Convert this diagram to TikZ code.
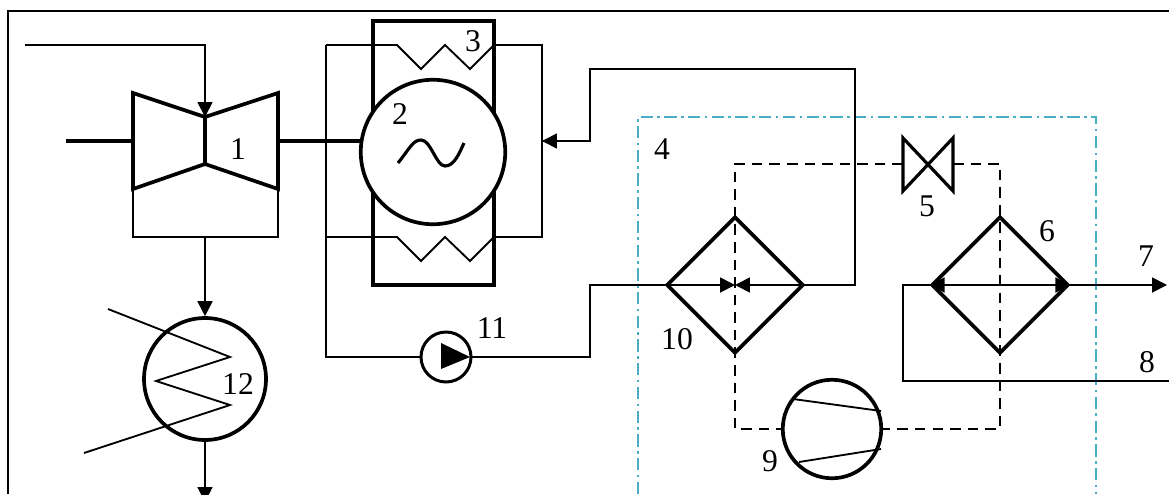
\documentclass[tikz,border=0pt]{standalone}
\usepackage{fontspec}
\setmainfont{Liberation Serif}
\usetikzlibrary{arrows.meta,shapes.geometric}
\definecolor{loopcyan}{HTML}{4BACC6}

\begin{document}
\begin{tikzpicture}[
        x=0.02cm, y=-0.02cm,
        every node/.style={font=\fontsize{18}{20}\selectfont},
        thin line/.style={line width=1.05pt, line join=miter},
        thick line/.style={line width=2.1pt, line join=miter},
        num/.style={inner sep=0pt},
        unit/.style={circle, draw=black, thick line, fill=white, inner sep=0pt},
        hex/.style={diamond, draw=black, thick line, inner sep=0pt, minimum width=2.74cm, minimum height=2.74cm},
        arrow/.style={thin line, -{Triangle[length=8.5pt, width=8.5pt]}},
        refrig/.style={line width=1.25pt, dash pattern=on 6pt off 4pt},
        boundary/.style={line width=0.9pt, loopcyan, dash pattern=on 7pt off 2.5pt on 1.5pt off 2.5pt}
    ]
    \useasboundingbox (0,0) rectangle (1169,494);

    % frame and heat pump boundary
    \coordinate (fa) at (8,494);
    \coordinate (fb) at (8,11);
    \coordinate (fc) at (1169,11);
    \draw[thin line] (fa) -- (fb) -- (fc);
    \coordinate (ba) at (638,494);
    \coordinate (bb) at (638,117);
    \coordinate (bc) at (1096,117);
    \coordinate (bd) at (1096,494);
    \draw[boundary] (ba) -- (bb) -- (bc) -- (bd);

    % turbine
    \coordinate (t1) at (133,93);
    \coordinate (t2) at (205,117);
    \coordinate (t3) at (278,93);
    \coordinate (t4) at (278,189);
    \coordinate (t5) at (205,164);
    \coordinate (t6) at (133,189);
    \coordinate (ta) at (133,237);
    \coordinate (tb) at (205,237);
    \coordinate (tc) at (278,237);
    \coordinate (sa) at (66,141);
    \coordinate (sb) at (133,141);
    \coordinate (sc) at (278,141);
    \coordinate (sd) at (362,141);
    \coordinate (in) at (25,45);
    \coordinate (ib) at (205,45);
    \draw[thin line] (t6) -- (ta) -- (tc) -- (t4);
    \draw[arrow] (in) -- (ib) -- (t2);
    \draw[thick line] (t1) -- (t2) -- (t3) -- (t4) -- (t5) -- (t6) -- cycle;
    \draw[thick line] (t2) -- (t5);

    % generator with its coolers
    \node[draw=black, line width=2.4pt, minimum width=2.42cm, minimum height=5.28cm, inner sep=0pt] (box) at (433.5,153) {};
    \coordinate (ca) at (326,45);
    \coordinate (cb) at (542,45);
    \coordinate (cc) at (542,237);
    \coordinate (cd) at (326,237);
    \coordinate (rt) at (542,141);
    \draw[thin line] (ca) -- (397,45) -- (421,69) -- (445,45) -- (470,69) -- (494,45) -- (cb) -- (cc)
        -- (494,237) -- (470,261) -- (445,237) -- (421,261) -- (397,237) -- (cd);
    \node[unit, minimum size=2.89cm] (gen) at (433,152) {};
    \draw[thick line, line width=1.8pt] (398,163) .. controls (410,148) and (413,140) .. (421,140)
        .. controls (431,140) and (436,166) .. (445,166) .. controls (454,166) and (459,154) .. (464,143);
    \draw[thick line] (sa) -- (sb);
    \draw[thick line] (sc) -- (sd);

    % heat exchangers, valve, compressor
    \node[hex] (hx10) at (735,285) {};
    \node[hex] (hx6) at (1000,285) {};
    \node[unit, minimum size=1.97cm] (comp) at (832,429) {};
    \coordinate (v1) at (903,138);
    \coordinate (v2) at (953,191);
    \coordinate (v3) at (953,138);
    \coordinate (v4) at (903,191);
    \coordinate (vl) at (903,164);
    \coordinate (vr) at (953,164);
    \draw[thick line, line width=1.8pt] (v1) -- (v2) -- (v3) -- (v4) -- cycle;
    \coordinate (q1) at (735,164);
    \coordinate (q2) at (1000,164);
    \coordinate (q3) at (1000,429);
    \coordinate (q4) at (735,429);
    \draw[refrig] (vl) -- (q1) -- (q4) -- (comp.west);
    \draw[refrig] (vr) -- (q2) -- (q3) -- (comp.east);
    \draw[thin line] (793,399) -- (881,411);
    \draw[thin line] (799,462) -- (881,449);

    % condensate line with pump
    \node[unit, line width=1.7pt, minimum size=1.0cm] (pump) at (446,357) {};
    \coordinate (p1) at (441,343);
    \coordinate (p2) at (441,369);
    \coordinate (p3) at (470,357);
    \fill (p1) -- (p2) -- (p3) -- cycle;
    \coordinate (l1) at (326,357);
    \coordinate (l2) at (590,357);
    \coordinate (l3) at (590,285);
    \draw[thin line] (ca) -- (l1) -- (pump);
    \draw[thin line] (pump) -- (l2) -- (l3) -- (hx10.west);
    \draw[arrow] (hx10.west) -- (hx10.center);
    \coordinate (r1) at (855,285);
    \coordinate (r2) at (855,69);
    \coordinate (r3) at (590,69);
    \coordinate (r4) at (590,141);
    \draw[thin line] (hx10.east) -- (r1) -- (r2) -- (r3) -- (r4) -- (rt |- r4);
    \draw[arrow] (r4) -- (rt);
    \draw[arrow] (hx10.east) -- (hx10.center);

    % network water
    \coordinate (w1) at (1169,381);
    \coordinate (w2) at (903,381);
    \coordinate (w3) at (903,285);
    \coordinate (w4) at (1167,285);
    \draw[thin line] (w1) -- (w2) -- (w3) -- (hx6.west);
    \draw[arrow] (hx6.center) -- (hx6.east);
    \draw[arrow] (hx6.center) -- (hx6.west);
    \draw[arrow] (hx6.east) -- (w4);

    % boiler
    \node[unit, minimum size=2.44cm] (boil) at (205,379) {};
    \coordinate (bo) at (205,502);
    \draw[arrow] (tb) -- (boil.north);
    \draw[arrow] (boil.south) -- (bo);
    \coordinate (h1) at (108,309);
    \coordinate (h2) at (230,357);
    \coordinate (h3) at (156,381);
    \coordinate (h4) at (230,405);
    \coordinate (h5) at (84,453);
    \draw[thin line] (h1) -- (h2) -- (h3) -- (h4) -- (h5);

    % numbers
    \node[num] (n1) at (238,149) {1};
    \node[num] (n2) at (400,114) {2};
    \node[num] (n3) at (473,41) {3};
    \node[num] (n4) at (662,149) {4};
    \node[num] (n5) at (927,206) {5};
    \node[num] (n6) at (1047,231) {6};
    \node[num] (n7) at (1146,256) {7};
    \node[num] (n8) at (1147,362) {8};
    \node[num] (n9) at (770,461) {9};
    \node[num] (n10) at (677,339) {10};
    \node[num] (n11) at (492,328) {11};
    \node[num] (n12) at (238,384) {12};
\end{tikzpicture}
\end{document}
